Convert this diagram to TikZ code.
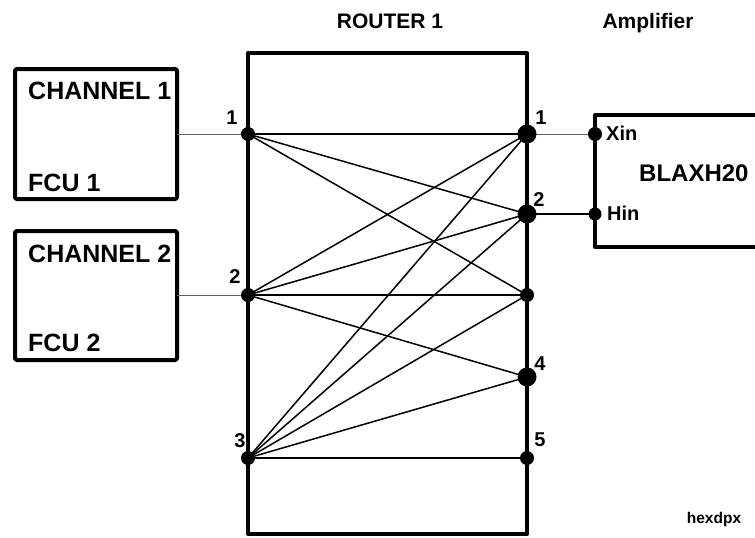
\documentclass[tikz,border=0pt]{standalone}
\usepackage{fontspec}
\setmainfont{Liberation Sans}
\begin{document}
\begin{tikzpicture}[x=1pt,y=-1pt,
  thickbox/.style={line width=4pt, line join=round},
  wire/.style={line width=1.5pt},
  feed/.style={line width=1pt, black!60},
  smalldot/.style={circle, fill=black, inner sep=0pt, minimum size=14pt},
  bigdot/.style={circle, fill=black, inner sep=0pt, minimum size=19pt},
  num/.style={font=\bfseries\fontsize{20}{20}\selectfont, inner sep=0pt},
  big/.style={font=\bfseries\fontsize{25}{25}\selectfont, inner sep=0pt, anchor=base west},
  title/.style={font=\bfseries\fontsize{21}{21}\selectfont, inner sep=0pt, anchor=base}
]
\useasboundingbox (0,0) rectangle (755,538);
% coordinates of ports
\coordinate (L1) at (248,134);
\coordinate (L2) at (248,295);
\coordinate (L3) at (248,458);
\coordinate (R1) at (527,134);
\coordinate (R2) at (527,214);
\coordinate (R3) at (527,295);
\coordinate (R4) at (527,377);
\coordinate (R5) at (527,458);
\coordinate (Xin) at (595,134);
\coordinate (Hin) at (595,214);
\coordinate (C1) at (177,134);
\coordinate (C2) at (177,295);
% titles
\node[title] (t1) at (390,28) {ROUTER 1};
\node[title] (t2) at (648,28) {Amplifier};
\node[font=\bfseries\fontsize{15.5}{15.5}\selectfont, inner sep=0pt, anchor=base] (hx) at (714,523) {hexdpx};
% channel boxes
\draw[thickbox, rounded corners=1.5pt] (15,69) rectangle (177,199);
\draw[thickbox, rounded corners=1.5pt] (15,231) rectangle (177,360);
\node[big] (ch1) at (28,99) {CHANNEL 1};
\node[big] (f1) at (28,191) {FCU 1};
\node[big] (ch2) at (28,262) {CHANNEL 2};
\node[big] (f2) at (28,351) {FCU 2};
% router box
\draw[thickbox] (248,53) rectangle (527,534);
% amplifier box
\draw[thickbox] (756,115) -- (595,115) -- (595,247) -- (756,247);
\node[font=\bfseries\fontsize{24}{24}\selectfont, inner sep=0pt, anchor=base west] (bl) at (639,181) {BLAXH20};
\node[font=\bfseries\fontsize{20}{20}\selectfont, inner sep=0pt, anchor=base west] (xl) at (606,140) {Xin};
\node[font=\bfseries\fontsize{20}{20}\selectfont, inner sep=0pt, anchor=base west] (hl) at (607,220) {Hin};
% feeds
\draw[feed] (C1) -- (L1);
\draw[feed] (C2) -- (L2);
\draw[feed] (R1) -- (Xin);
\draw[wire] (R2) -- (Hin);
% crosspoint wires
\draw[wire] (L1) -- (R1);
\draw[wire] (L1) -- (R2);
\draw[wire] (L1) -- (R3);
\draw[wire] (L2) -- (R1);
\draw[wire] (L2) -- (R2);
\draw[wire] (L2) -- (R3);
\draw[wire] (L2) -- (R4);
\draw[wire] (L3) -- (R1);
\draw[wire] (L3) -- (R2);
\draw[wire] (L3) -- (R3);
\draw[wire] (L3) -- (R4);
\draw[wire] (L3) -- (R5);
% dots
\node[smalldot] (dL1) at (L1) {};
\node[smalldot] (dL2) at (L2) {};
\node[smalldot] (dL3) at (L3) {};
\node[bigdot] (dR1) at (R1) {};
\node[bigdot] (dR2) at (R2) {};
\node[smalldot] (dR3) at (R3) {};
\node[bigdot] (dR4) at (R4) {};
\node[smalldot] (dR5) at (R5) {};
\node[smalldot] (dX) at (Xin) {};
\node[circle, fill=black, inner sep=0pt, minimum size=13pt] (dH) at (Hin) {};
% port numbers
\node[num] (n1) at (232,118) {1};
\node[num] (n2) at (235,277) {2};
\node[num] (n3) at (240,441) {3};
\node[num] (m1) at (541,118) {1};
\node[num] (m2) at (539,200) {2};
\node[num] (m4) at (540,364) {4};
\node[num] (m5) at (540,440) {5};
\end{tikzpicture}
\end{document}
